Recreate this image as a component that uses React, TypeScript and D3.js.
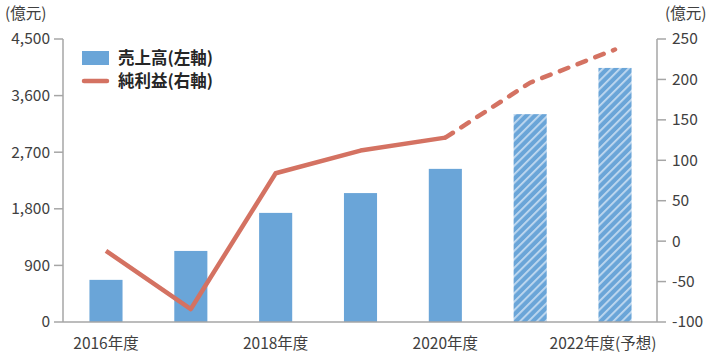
import { useEffect, useRef } from "react";
import * as d3 from "d3";

const years = ["2016", "2017", "2018", "2019", "2020", "2021", "2022"];
const sales = [670, 1130, 1735, 2050, 2435, 3305, 4040];
const profit = [-12, -84, 84, 112, 128, 196, 237];
const forecast = [false, false, false, false, false, true, true];
const xLabels = ["2016年度", "", "2018年度", "", "2020年度", "", "2022年度(予想)"];
const leftTicks = [0, 900, 1800, 2700, 3600, 4500];
const rightTicks = [-100, -50, 0, 50, 100, 150, 200, 250];

const W = 714;
const H = 354;
const FONT = "'Noto Sans CJK JP', 'Noto Sans', sans-serif";
const BLUE = "#6aa5d8";
const RED = "#d47262";
const GRID = "#a6a6a6";
const TXT = "#404040";

export default function App() {
  const ref = useRef<SVGSVGElement | null>(null);

  useEffect(() => {
    if (!ref.current) return;
    const svg = d3.select(ref.current);
    svg.selectAll("*").remove();

    const left = 63, right = 657, top = 39, bottom = 322;
    const fs = 15.5;

    const x = d3.scaleBand<string>().domain(years).range([64, 657]).paddingInner(0.61).paddingOuter(0.3);
    const yL = d3.scaleLinear().domain([0, 4500]).range([bottom, top]);
    const yR = d3.scaleLinear().domain([-100, 250]).range([bottom, top]);

    // hatch pattern
    const defs = svg.append("defs");
    const pat = defs.append("pattern")
      .attr("id", "hatch")
      .attr("patternUnits", "userSpaceOnUse")
      .attr("width", 6)
      .attr("height", 6)
      .attr("patternTransform", "rotate(45)");
    pat.append("rect").attr("width", 6).attr("height", 6).attr("fill", BLUE);
    pat.append("rect").attr("x", 0).attr("width", 1.8).attr("height", 6).attr("fill", "#c2daf0");

    const bw = x.bandwidth();
    const cx = (d: string) => (x(d) as number) + bw / 2;

    // bars
    svg.append("g")
      .selectAll("rect")
      .data(years)
      .enter()
      .append("rect")
      .attr("x", (d) => x(d) as number)
      .attr("y", (_, i) => yL(sales[i]))
      .attr("width", bw)
      .attr("height", (_, i) => bottom - yL(sales[i]))
      .attr("fill", (_, i) => (forecast[i] ? "url(#hatch)" : BLUE));

    // left axis
    const gl = svg.append("g");
    gl.append("line").attr("x1", left).attr("x2", left).attr("y1", top).attr("y2", bottom).attr("stroke", GRID).attr("stroke-width", 1.5);
    leftTicks.forEach((t) => {
      gl.append("line").attr("x1", left - 9).attr("x2", left).attr("y1", yL(t)).attr("y2", yL(t)).attr("stroke", GRID).attr("stroke-width", 1.5);
      gl.append("text").attr("x", left - 13).attr("y", yL(t)).attr("dy", "0.35em").attr("text-anchor", "end")
        .attr("font-size", fs).attr("fill", TXT).attr("font-family", FONT).text(d3.format(",")(t));
    });

    // right axis
    const gr = svg.append("g");
    gr.append("line").attr("x1", right).attr("x2", right).attr("y1", top).attr("y2", bottom).attr("stroke", GRID).attr("stroke-width", 1.5);
    rightTicks.forEach((t) => {
      gr.append("line").attr("x1", right).attr("x2", right + 9).attr("y1", yR(t)).attr("y2", yR(t)).attr("stroke", GRID).attr("stroke-width", 1.5);
      gr.append("text").attr("x", right + 15).attr("y", yR(t)).attr("dy", "0.35em").attr("text-anchor", "start")
        .attr("font-size", fs).attr("fill", TXT).attr("font-family", FONT).text(t);
    });

    // bottom axis
    svg.append("line").attr("x1", left).attr("x2", right).attr("y1", bottom).attr("y2", bottom).attr("stroke", GRID).attr("stroke-width", 1.5);
    xLabels.forEach((l, i) => {
      if (!l) return;
      const last = i === xLabels.length - 1;
      svg.append("text")
        .attr("x", last ? 603 : cx(years[i]))
        .attr("y", 344)
        .attr("dy", "0.35em")
        .attr("text-anchor", "middle")
        .attr("font-size", fs).attr("fill", TXT).attr("font-family", FONT)
        .text(l);
    });

    // unit labels
    svg.append("text").attr("x", 5).attr("y", 14).attr("dy", "0.35em").attr("font-size", fs).attr("fill", TXT).attr("font-family", FONT).text("(億元)");
    svg.append("text").attr("x", 665).attr("y", 14).attr("dy", "0.35em").attr("font-size", fs).attr("fill", TXT).attr("font-family", FONT).text("(億元)");

    // profit line
    const line = d3.line<number>().x((_, i) => cx(years[i])).y((d) => yR(d));
    const solidIdx = 4;
    svg.append("path")
      .attr("d", line(profit.slice(0, solidIdx + 1)) as string)
      .attr("fill", "none").attr("stroke", RED).attr("stroke-width", 4.5).attr("stroke-linejoin", "round");
    const dashLine = d3.line<number>().x((_, i) => cx(years[i + solidIdx])).y((d) => yR(d));
    svg.append("path")
      .attr("d", dashLine(profit.slice(solidIdx)) as string)
      .attr("fill", "none").attr("stroke", RED).attr("stroke-width", 4.5)
      .attr("stroke-dasharray", "9 10").attr("stroke-linecap", "round");

    // legend
    const lg = svg.append("g");
    lg.append("rect").attr("x", 82).attr("y", 51).attr("width", 27).attr("height", 14).attr("fill", BLUE);
    lg.append("text").attr("x", 118).attr("y", 58).attr("dy", "0.35em").attr("font-size", 16.5).attr("font-weight", "bold")
      .attr("fill", "#262626").attr("font-family", FONT).text("売上高(左軸)");
    lg.append("line").attr("x1", 84).attr("x2", 107).attr("y1", 81).attr("y2", 81).attr("stroke", RED).attr("stroke-width", 4.5).attr("stroke-linecap", "round");
    lg.append("text").attr("x", 118).attr("y", 81).attr("dy", "0.35em").attr("font-size", 16.5).attr("font-weight", "bold")
      .attr("fill", "#262626").attr("font-family", FONT).text("純利益(右軸)");
  }, []);

  return (
    <svg ref={ref} width={W} height={H} style={{ position: "absolute", left: 0, top: 0, background: "#fff" }} />
  );
}
